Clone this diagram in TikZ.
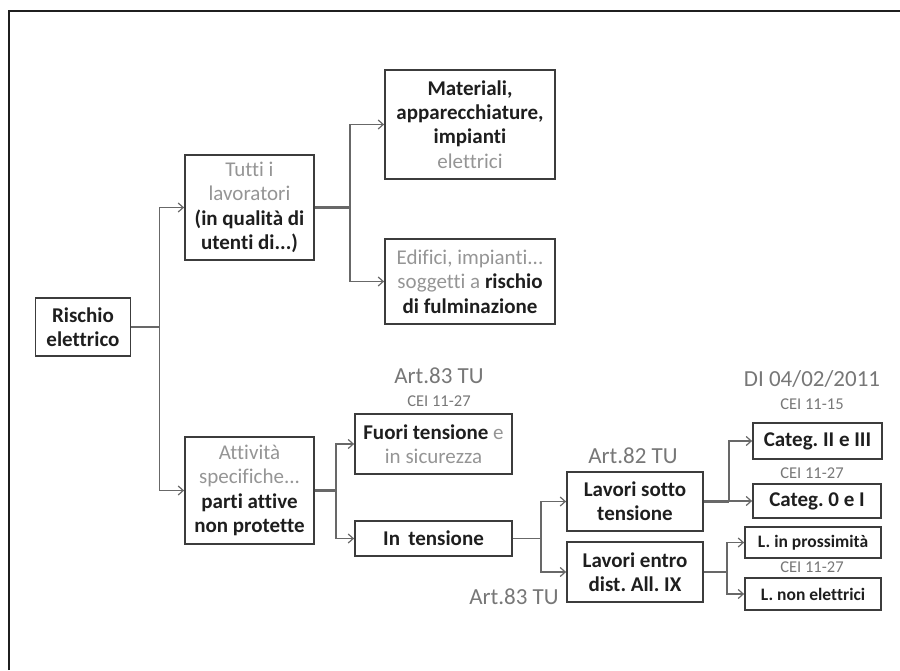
\documentclass[tikz,border=0pt]{standalone}
\usepackage{fontspec}
\setmainfont{Carlito}[Ligatures=NoCommon]
\usetikzlibrary{arrows.meta}
\definecolor{boxline}{HTML}{3C3C3C}
\definecolor{connline}{HTML}{686868}
\definecolor{softtext}{HTML}{959595}
\definecolor{labtext}{HTML}{777777}
\definecolor{hardtext}{HTML}{1E1E1E}
\newcommand{\boxfont}{\fontsize{21}{24.4}\selectfont}
\newcommand{\smallboxfont}{\fontsize{17.5}{20}\selectfont}
\newcommand{\artfont}{\fontsize{23}{27}\selectfont}
\newcommand{\ceifont}{\fontsize{16.5}{18}\selectfont}
\newcommand{\soft}[1]{\textcolor{softtext}{\mdseries #1}}
\frenchspacing

\begin{document}
\begin{tikzpicture}[
  x=1pt, y=-1pt,
  box/.style={
    draw=boxline, line width=1.8pt, inner sep=2pt, align=center,
    font=\boxfont\bfseries, text=hardtext
  },
  smallbox/.style={box, font=\smallboxfont\bfseries},
  artlab/.style={font=\artfont, text=labtext, inner sep=1pt},
  ceilab/.style={font=\ceifont, text=labtext, inner sep=1pt},
  conn/.style={connline, line width=1.4pt},
  trunk/.style={conn, line width=2.4pt},
  arr/.style={conn, -{Straight Barb[length=5pt, width=9pt, line width=1.2pt]}},
  frame/.style={draw=black!88, line width=2pt}
]
\useasboundingbox (0,0) rectangle (900,670);

% page frame (top and left edge only)
\draw[frame] (8.5,670) -- (8.5,10.5) -- (900,10.5);

% ============ ROOT ============
\node[box, minimum width=95pt, minimum height=58pt] (risk) at (83,327)
  {Rischio\\elettrico};

% ============ UPPER BRANCH ============
\node[box, minimum width=129pt, minimum height=105pt] (tutti) at (249.5,207.5)
  {\soft{Tutti i}\\\soft{lavoratori}\\(in qualità di\\utenti di...)};
\node[box, minimum width=170pt, minimum height=109pt] (mat) at (470,124.5)
  {Materiali,\\apparecchiature,\\impianti\\\soft{elettrici}};
\node[box, minimum width=170pt, minimum height=85pt] (edif) at (470,281.5)
  {\soft{Edifici, impianti...}\\\soft{soggetti a} rischio\\di fulminazione};

% ============ LOWER BRANCH ============
\node[box, minimum width=129pt, minimum height=107pt] (attiv) at (249.5,490.5)
  {\soft{Attività}\\\soft{specifiche...}\\parti attive\\non protette};
\node[box, minimum width=157pt, minimum height=60pt] (fuori) at (433.5,444)
  {Fuori tensione \soft{e}\\\soft{in sicurezza}};
\node[box, minimum width=157pt, minimum height=35pt] (intens) at (433.5,538.5)
  {In\, tensione};
\node[box, minimum width=136pt, minimum height=59pt] (sotto) at (635,501.5)
  {Lavori sotto\\tensione};
\node[box, minimum width=136pt, minimum height=60pt] (entro) at (635,572)
  {Lavori entro\\dist. All. IX};

% categories and kinds of work
\node[box, minimum width=129pt, minimum height=36pt] (catalta) at (817.5,441)
  {Categ. II e III};
\node[box, minimum width=128pt, minimum height=34pt] (catbassa) at (817,501)
  {Categ. 0 e I};
\node[smallbox, minimum width=136pt, minimum height=31pt] (prox) at (813,542.5)
  {L. in prossimità};
\node[smallbox, minimum width=136pt, minimum height=32pt] (nonel) at (813,594)
  {L. non elettrici};

% ============ REFERENCE LABELS ============
\node[artlab] (artfuori) at (439,376) {Art.83 TU};
\node[ceilab] (ceifuori) at (439,401) {CEI 11-27};
\node[artlab] (dlgs) at (812,379) {DI 04/02/2011};
\node[ceilab] (ceialta) at (812,404) {CEI 11-15};
\node[artlab] (artsotto) at (633,456) {Art.82 TU};
\node[ceilab] (ceibassa) at (812,473) {CEI 11-27};
\node[ceilab] (ceinonel) at (812,567) {CEI 11-27};
\node[artlab] (artentro) at (514,597) {Art.83 TU};

% ============ CONNECTORS ============
\draw[conn] (risk.east) -- ++(28,0) coordinate (busrisk);
\draw[arr] (busrisk) |- (tutti.west);
\draw[arr] (busrisk) |- (attiv.west);

\draw[trunk] (tutti.east) -- ++(35,0) coordinate (bustutti);
\draw[arr] (bustutti) |- (mat.west);
\draw[arr] (bustutti) |- (edif.west);

\draw[trunk] (attiv.east) -- ++(21,0) coordinate (busattiv);
\draw[arr] (busattiv) |- (fuori.west);
\draw[arr] (busattiv) |- (intens.west);

\draw[conn] (intens.east) -- ++(28,0) coordinate (busintens);
\draw[arr] (busintens) |- (sotto.west);
\draw[arr] (busintens) |- (entro.west);

\draw[trunk] (sotto.east) -- ++(25,0) coordinate (bussotto);
\draw[arr] (bussotto) |- (catalta.west);
\draw[arr] (bussotto) |- (catbassa.west);

\draw[conn] (entro.east) -- ++(23,0) coordinate (busentro);
\draw[arr] (busentro) |- (prox.west);
\draw[arr] (busentro) |- (nonel.west);

\end{tikzpicture}
\end{document}
